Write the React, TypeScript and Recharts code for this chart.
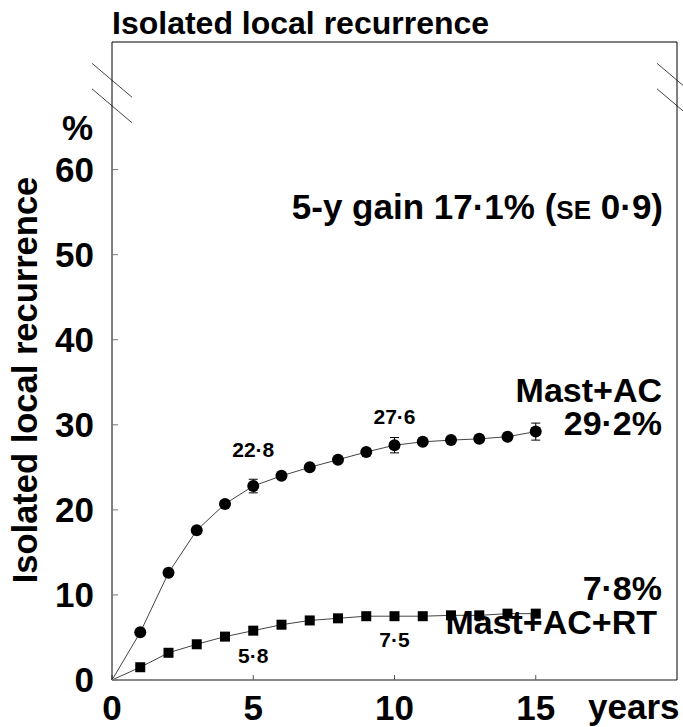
import React from 'react';
import { LineChart, Line, XAxis, YAxis, ErrorBar, LabelList, ReferenceLine } from 'recharts';

const years = [0, 1, 2, 3, 4, 5, 6, 7, 8, 9, 10, 11, 12, 13, 14, 15];
const mastAC = [0, 5.6, 12.6, 17.6, 20.7, 22.8, 24.0, 25.0, 25.9, 26.8, 27.6, 28.0, 28.2, 28.35, 28.6, 29.2];
const mastACRT = [0, 1.5, 3.2, 4.2, 5.1, 5.8, 6.5, 7.0, 7.25, 7.5, 7.5, 7.5, 7.6, 7.6, 7.8, 7.8];
const mastACErr: (number | undefined)[] = [undefined, undefined, undefined, undefined, undefined, 0.8, undefined, undefined, undefined, undefined, 0.9, undefined, undefined, undefined, undefined, 1.0];
const xTicks = [0, 5, 10, 15];
const yTicks = [0, 10, 20, 30, 40, 50, 60];
const acLabelYears = [5, 10];
const rtLabelYears = [5, 10];

const data = years.map((y, i) => ({ year: y, ac: mastAC[i], rt: mastACRT[i], acErr: mastACErr[i] }));

const FONT = '"Liberation Sans", Arial, Helvetica, sans-serif';
const fmt = (v: number) => v.toFixed(1).replace('.', '·');

const acLabelDy: Record<number, number> = { 5: -29, 10: -21 };
const rtLabelDy: Record<number, number> = { 5: 32, 10: 31 };

const makeLabel = (labelYears: number[], dyMap: Record<number, number>) => (props: any) => {
  const { x, y, value, index } = props;
  const yr = years[index];
  if (!labelYears.includes(yr)) return null;
  return (
    <text key={`l${index}`} x={x} y={y + dyMap[yr]} textAnchor="middle" fontFamily={FONT} fontWeight="bold" fontSize={21} fill="#000">
      {fmt(Number(value))}
    </text>
  );
};

const circleDot = (p: any) => {
  if (p.index === 0) return <g key={`c${p.index}`} />;
  return <circle key={`c${p.index}`} cx={p.cx} cy={p.cy} r={6} fill="#000" />;
};
const squareDot = (p: any) => {
  if (p.index === 0) return <g key={`s${p.index}`} />;
  return <rect key={`s${p.index}`} x={p.cx - 5} y={p.cy - 5} width={10} height={10} fill="#000" />;
};

const tickStyle = { fontFamily: FONT, fontWeight: 'bold', fontSize: 35, fill: '#000' } as any;

export default function App() {
  return (
    <div style={{ position: 'absolute', left: 0, top: 0, width: 683, height: 727, background: '#fff' }}>
      <LineChart width={683} height={727} data={data} margin={{ top: 41, right: 5, bottom: 46, left: 111 }}>
        <XAxis dataKey="year" type="number" domain={[0, 20]} ticks={xTicks} height={1}
          axisLine={{ stroke: '#8a8a8a', strokeWidth: 2 }} tickLine={{ stroke: '#555' }} tickSize={-5} tickMargin={20}
          tick={tickStyle} interval={0} allowDataOverflow />
        <XAxis xAxisId="top" orientation="top" type="number" domain={[0, 20]} height={1}
          axisLine={{ stroke: '#000', strokeWidth: 1 }} tick={false} tickLine={false} />
        <YAxis type="number" domain={[0, 75]} ticks={yTicks} width={1}
          axisLine={{ stroke: '#000', strokeWidth: 1 }} tickLine={{ stroke: '#777' }} tickSize={-6} tickMargin={24}
          tick={tickStyle} interval={0} allowDataOverflow />
        <YAxis yAxisId="right" orientation="right" type="number" domain={[0, 75]} ticks={yTicks} width={1}
          axisLine={{ stroke: '#000', strokeWidth: 1 }} tickLine={{ stroke: '#777' }} tickSize={-5} tick={false} interval={0} allowDataOverflow />
        <ReferenceLine segment={[{ x: -0.71, y: 72.5 }, { x: 0.71, y: 68.5 }]} stroke="#444" strokeWidth={1} ifOverflow="visible" />
        <ReferenceLine segment={[{ x: -0.71, y: 69.5 }, { x: 0.71, y: 65.5 }]} stroke="#444" strokeWidth={1} ifOverflow="visible" />
        <ReferenceLine segment={[{ x: 19.29, y: 72.5 }, { x: 20.71, y: 68.5 }]} stroke="#444" strokeWidth={1} ifOverflow="visible" />
        <ReferenceLine segment={[{ x: 19.29, y: 69.5 }, { x: 20.71, y: 65.5 }]} stroke="#444" strokeWidth={1} ifOverflow="visible" />
        <Line dataKey="ac" type="linear" stroke="#444" strokeWidth={1} dot={circleDot} activeDot={false} isAnimationActive={false}>
          <ErrorBar dataKey="acErr" width={4.5} stroke="#000" strokeWidth={1} direction="y" />
          <LabelList dataKey="ac" content={makeLabel(acLabelYears, acLabelDy)} />
        </Line>
        <Line dataKey="rt" type="linear" stroke="#444" strokeWidth={1} dot={squareDot} activeDot={false} isAnimationActive={false}>
          <LabelList dataKey="rt" content={makeLabel(rtLabelYears, rtLabelDy)} />
        </Line>
      </LineChart>
      <svg width={683} height={727} style={{ position: 'absolute', left: 0, top: 0, pointerEvents: 'none' }}>
        <g fontFamily={FONT} fontWeight="bold" fill="#000">
          <text x={112} y={34} fontSize={32}>Isolated local recurrence</text>
          <text x={93} y={140} fontSize={35} textAnchor="end">%</text>
          <text x={588} y={719} fontSize={35}>years</text>
          <text x={37} y={380} fontSize={34.5} textAnchor="middle" transform="rotate(-90 37 380)">Isolated local recurrence</text>
          <text x={663} y={219} fontSize={35} textAnchor="end">5-y gain 17·1% (<tspan fontSize={26}>SE</tspan> 0·9)</text>
          <text x={662} y={402} fontSize={34} textAnchor="end">Mast+AC</text>
          <text x={662} y={435} fontSize={34} textAnchor="end">29·2%</text>
          <text x={662} y={600} fontSize={34} textAnchor="end">7·8%</text>
          <text x={657} y={634} fontSize={34} textAnchor="end">Mast+AC+RT</text>
        </g>
      </svg>
    </div>
  );
}
